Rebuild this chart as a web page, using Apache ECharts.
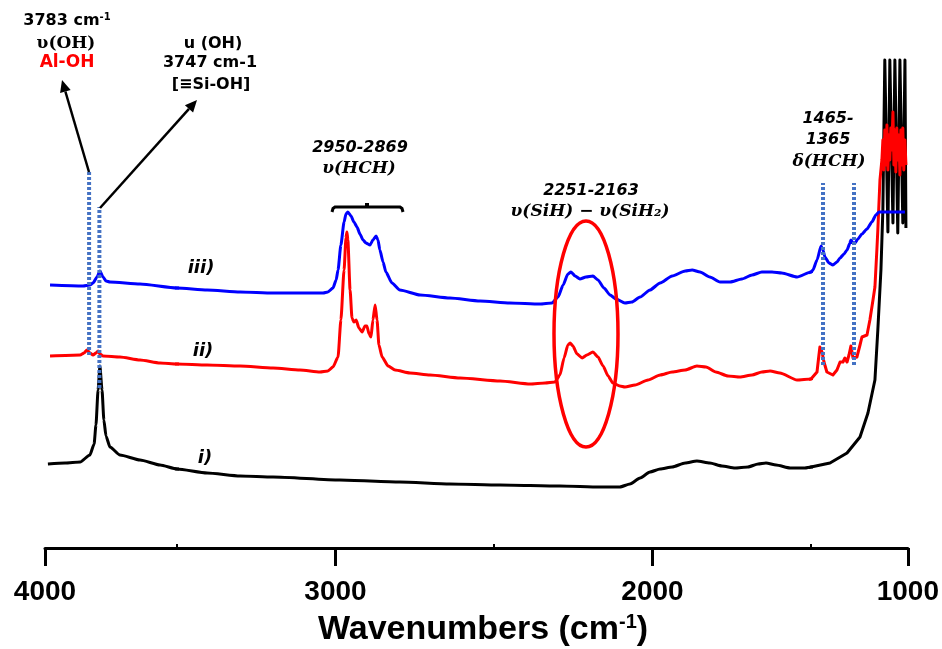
<!DOCTYPE html>
<html>
<head>
<meta charset="utf-8">
<script src="https://cdn.jsdelivr.net/npm/echarts@6/dist/echarts.min.js"></script>
<style>
  html, body { margin: 0; padding: 0; background: #fff; }
  #chart { width: 942px; height: 649px; }
</style>
</head>
<body>
<div id="chart"></div>
<script>
// FTIR spectra: [wavenumber (cm-1), absorbance (a.u., stacked offset)]
const spectrumI = [
  [3989,0.42],[3924,0.425],[3867,0.43],[3830,0.465],[3814,0.52],[3807,0.615],[3799,0.79],[3792,0.91],
  [3784,0.79],[3777,0.64],[3769,0.56],[3754,0.505],[3716,0.465],[3640,0.44],[3564,0.415],[3500,0.395],
  [3405,0.375],[3301,0.36],[3197,0.355],[2986,0.34],[2797,0.33],[2639,0.32],[2481,0.315],[2292,0.31],
  [2166,0.305],[2103,0.305],[2071,0.32],[2039,0.35],[2008,0.38],[1976,0.395],[1938,0.405],[1897,0.425],
  [1860,0.435],[1819,0.425],[1781,0.41],[1740,0.40],[1699,0.405],[1667,0.42],[1642,0.425],[1610,0.415],
  [1566,0.40],[1519,0.40],[1500,0.405],[1402,0.425],[1314,0.475],[1247,0.555],[1206,0.675],[1170,0.84],
  [1155,1.09],[1139,1.39],[1129,1.69],[1119,2.44],[1103,1.58],[1093,2.44],[1077,1.625],[1067,2.44],
  [1052,1.575],[1041,2.44],[1026,1.625],[1015,2.44],[1010,1.60]
];
const spectrumII = [
  [3981,0.96],[3867,0.965],[3852,0.975],[3841,0.99],[3830,0.975],[3818,0.965],[3807,0.975],[3799,0.985],
  [3792,0.97],[3780,0.96],[3716,0.955],[3640,0.94],[3564,0.925],[3500,0.92],
  [3405,0.915],[3301,0.91],[3197,0.90],[3112,0.89],[3049,0.88],[3024,0.885],[3008,0.905],[2992,0.955],
  [2983,1.14],[2973,1.39],[2967,1.55],[2964,1.58],[2961,1.54],[2954,1.29],[2948,1.15],[2942,1.13],
  [2935,1.14],[2926,1.10],[2916,1.08],[2907,1.11],[2901,1.11],[2894,1.07],[2888,1.055],[2882,1.14],
  [2875,1.215],[2869,1.14],[2863,1.015],[2853,0.955],[2834,0.91],[2812,0.89],[2765,0.875],[2702,0.865],
  [2607,0.85],[2481,0.835],[2386,0.82],[2339,0.825],[2308,0.83],[2292,0.865],[2279,0.95],[2267,1.015],
  [2260,1.025],[2251,1.01],[2238,0.97],[2222,0.95],[2207,0.965],[2188,0.98],[2172,0.955],[2156,0.91],
  [2140,0.86],[2125,0.825],[2103,0.81],[2087,0.805],[2055,0.815],[2014,0.84],[1976,0.865],[1938,0.88],
  [1897,0.89],[1860,0.91],[1831,0.905],[1800,0.88],[1762,0.86],[1724,0.855],[1686,0.865],[1655,0.88],
  [1629,0.885],[1598,0.875],[1544,0.84],
  [1500,0.845],[1490,0.85],[1469,0.88],[1459,0.965],[1454,1.005],[1443,0.98],[1433,0.93],[1418,0.88],
  [1387,0.865],[1366,0.89],[1350,0.93],[1335,0.93],[1325,0.95],[1314,0.93],[1304,0.965],[1294,1.01],
  [1283,0.95],[1273,0.94],[1263,0.955],[1247,1.015],[1237,1.055],[1211,1.065],[1196,1.14],[1180,1.24],
  [1170,1.305],[1160,1.49],[1155,1.59],[1144,1.84],[1134,1.94],[1129,2.04],[1124,1.89],[1119,2.09],
  [1113,1.915],[1108,2.115],[1103,1.89],[1098,2.065],[1093,1.94],[1088,2.10],[1083,1.99],[1077,2.18],
  [1072,1.915],[1067,2.09],[1062,1.88],[1057,2.10],[1052,1.94],[1046,2.065],[1041,1.865],[1036,2.09],
  [1031,1.915],[1026,2.10],[1021,1.89],[1015,2.04],[1010,1.915]
];
const spectrumIII = [
  [3981,1.315],[3856,1.31],[3830,1.315],[3818,1.325],[3803,1.355],[3792,1.385],[3780,1.355],[3769,1.335],
  [3754,1.33],[3640,1.32],[3500,1.30],
  [3405,1.29],[3301,1.28],[3197,1.275],[3112,1.275],[3039,1.275],[3024,1.28],[3008,1.30],[2998,1.34],
  [2992,1.39],[2983,1.515],[2973,1.63],[2967,1.67],[2961,1.68],[2951,1.66],[2942,1.63],[2932,1.605],
  [2923,1.57],[2913,1.54],[2904,1.525],[2891,1.515],[2882,1.54],[2872,1.56],[2866,1.54],[2860,1.49],
  [2850,1.43],[2841,1.38],[2822,1.325],[2797,1.29],[2733,1.265],[2639,1.25],[2544,1.235],[2450,1.225],
  [2355,1.22],[2317,1.225],[2298,1.255],[2282,1.315],[2267,1.37],[2257,1.38],[2244,1.36],[2229,1.345],
  [2210,1.355],[2188,1.36],[2172,1.34],[2153,1.30],[2134,1.265],[2115,1.245],[2087,1.225],[2065,1.23],
  [2039,1.255],[2008,1.29],[1976,1.325],[1938,1.36],[1897,1.385],[1875,1.39],[1850,1.38],[1819,1.355],
  [1787,1.33],[1755,1.33],[1718,1.345],[1686,1.365],[1655,1.38],[1623,1.38],[1592,1.375],[1544,1.355],
  [1500,1.38],[1490,1.39],[1469,1.44],[1448,1.51],[1438,1.49],[1428,1.455],[1407,1.425],[1387,1.415],
  [1366,1.43],[1350,1.45],[1330,1.47],[1314,1.49],[1299,1.525],[1294,1.54],[1283,1.525],[1273,1.525],
  [1258,1.545],[1237,1.57],[1211,1.595],[1186,1.63],[1165,1.665],[1149,1.68],[1119,1.68],[1015,1.68]
];

// x-axis: three linked segments, major / minor ticks
const axisBreaks = [4000, 3500, 1500, 1000];
const majorTicks = [4000, 3000, 2000, 1000];
const minorTicks = [3500, 2500, 1500];

// band markers: wavenumber, lower and upper absorbance
const markerWn = [3833, 3794, 1438, 1278];
const markerLow = [0.965, 0.80, 0.915, 0.915];
const markerHigh = [1.88, 1.705, 1.825, 1.825];

const curves = [
  { name: 'i)', data: spectrumI, color: '#000000' },
  { name: 'ii)', data: spectrumII, color: '#ff0000' },
  { name: 'iii)', data: spectrumIII, color: '#0000ff' }
];

const segLayout = [
  { left: 45, width: 132 },
  { left: 177, width: 634 },
  { left: 811, width: 97 }
];
const yMax = 2.54;

function inRange(v, lo, hi) { return v >= lo && v <= hi; }
function segIndex(wn) { return wn > axisBreaks[1] ? 0 : (wn > axisBreaks[2] ? 1 : 2); }
// points of one spectrum that fall in a segment, plus one neighbour on each side
function segment(data, lo, hi) {
  const out = [];
  for (let i = 0; i < data.length; i++) {
    const here = inRange(data[i][0], lo, hi);
    const prev = i > 0 && inRange(data[i - 1][0], lo, hi);
    const next = i < data.length - 1 && inRange(data[i + 1][0], lo, hi);
    if (here || prev || next) out.push(data[i]);
  }
  return out;
}

const grid = [], xAxis = [], yAxis = [], series = [];
segLayout.forEach((g, i) => {
  const hi = axisBreaks[i], lo = axisBreaks[i + 1];
  grid.push({ left: g.left, width: g.width, top: 40, height: 508 });
  const majors = majorTicks.filter(v => inRange(v, lo, hi));
  xAxis.push({
    type: 'value', gridIndex: i, min: lo, max: hi, inverse: true,
    axisLine: { show: true, onZero: false, lineStyle: { color: '#000', width: 3 } },
    axisTick: { show: majors.length > 0, customValues: majors, length: 18, lineStyle: { color: '#000', width: 3 } },
    axisLabel: {
      show: majors.length > 0, customValues: majors, margin: 30,
      formatter: v => String(v),
      color: '#000', fontSize: 28, fontWeight: 'bold', fontFamily: 'Liberation Sans'
    },
    splitLine: { show: false }
  });
  yAxis.push({ type: 'value', gridIndex: i, min: 0, max: yMax, show: false });
  curves.forEach((c, k) => {
    series.push({
      type: 'line', name: c.name, xAxisIndex: i, yAxisIndex: i,
      data: segment(c.data, lo, hi), symbol: 'none', clip: true,
      smooth: (i === 2 && k < 2) ? false : 0.2, smoothMonotone: 'x',
      lineStyle: { color: c.color, width: 3, join: 'round' },
      z: 2 + k, silent: true
    });
  });
});
// minor ticks on the middle segment
xAxis.push({
  type: 'value', gridIndex: 1, min: axisBreaks[2], max: axisBreaks[1], inverse: true,
  axisLine: { show: false },
  axisTick: { show: true, customValues: minorTicks, length: 4, lineStyle: { color: '#000', width: 2 } },
  axisLabel: { show: false },
  splitLine: { show: false }
});

// dotted band markers
markerWn.forEach((wn, j) => {
  const gi = segIndex(wn);
  series.push({
    type: 'line', xAxisIndex: gi, yAxisIndex: gi, z: 10, silent: true,
    data: [[wn, markerLow[j]], [wn, markerHigh[j]]], symbol: 'none',
    lineStyle: { color: '#4472C4', width: 4, type: [3, 2], cap: 'butt' }
  });
});

// annotation helpers
function txt(text, x, y, opt) {
  return {
    type: 'text', z: 20, silent: true,
    style: Object.assign({
      text, x, y, align: 'center', verticalAlign: 'middle', fill: '#000',
      fontSize: 16, fontWeight: 'bold', fontFamily: 'DejaVu Sans'
    }, opt || {})
  };
}
function arrow(x1, y1, x2, y2) {
  const dx = x2 - x1, dy = y2 - y1, L = Math.hypot(dx, dy);
  const ux = dx / L, uy = dy / L, hl = 12, hw = 5.5;
  const bx = x2 - ux * hl, by = y2 - uy * hl;
  return [
    { type: 'line', z: 20, silent: true, shape: { x1, y1, x2: bx, y2: by }, style: { stroke: '#000', lineWidth: 2.5 } },
    { type: 'polygon', z: 20, silent: true,
      shape: { points: [[x2, y2], [bx - uy * hw, by + ux * hw], [bx + uy * hw, by - ux * hw]] },
      style: { fill: '#000' } }
  ];
}
const serifB = { fontFamily: 'DejaVu Serif', fontSize: 17, fontWeight: 'bold' };
const serifBI = { fontFamily: 'DejaVu Serif', fontSize: 17, fontWeight: 'bold', fontStyle: 'italic' };
const sansBI = { fontStyle: 'italic' };

const graphic = [].concat(
  [
    txt('{a|3783 cm}{s|-1}', 67, 21, { rich: {
      a: { fontSize: 16, fontWeight: 'bold', fontFamily: 'DejaVu Sans', lineHeight: 18 },
      s: { fontSize: 10, fontWeight: 'bold', fontFamily: 'DejaVu Sans', verticalAlign: 'top', lineHeight: 10 } } }),
    txt('υ(OH)', 66, 44, serifB),
    txt('Al-OH', 67, 63, { fill: '#ff0000', fontSize: 17 }),
    txt('u (OH)', 213, 44),
    txt('3747 cm-1', 210, 63),
    txt('[≡Si-OH]', 211, 85),
    txt('2950-2869', 360, 148, sansBI),
    txt('υ(HCH)', 359, 169, serifBI),
    txt('2251-2163', 591, 191, sansBI),
    txt('υ(SiH) − υ(SiH₂)', 590, 212, serifBI),
    txt('1465-', 828, 119, sansBI),
    txt('1365', 828, 140, sansBI),
    txt('δ(HCH)', 829, 162, serifBI),
    txt('iii)', 201, 268, { fontSize: 18, fontStyle: 'italic' }),
    txt('ii)', 203, 351, { fontSize: 18, fontStyle: 'italic' }),
    txt('i)', 205, 458, { fontSize: 18, fontStyle: 'italic' }),
    txt('{a|Wavenumbers (cm}{s|-1}{a|)}', 483, 630, { rich: {
      a: { fontSize: 34, fontWeight: 'bold', fontFamily: 'Liberation Sans', lineHeight: 36 },
      s: { fontSize: 20, fontWeight: 'bold', fontFamily: 'Liberation Sans', verticalAlign: 'top', lineHeight: 20 } } }),
    // bracket over the C-H stretching bands
    { type: 'polyline', z: 20, silent: true,
      shape: { points: [[332, 212], [333, 208.5], [335, 207], [400, 207], [402, 208.5], [403, 212]] },
      style: { stroke: '#000', lineWidth: 3, fill: null } },
    { type: 'rect', z: 20, silent: true, shape: { x: 365, y: 203, width: 4, height: 4 }, style: { fill: '#000' } },
    // ellipse around the Si-H bands
    { type: 'ellipse', z: 20, silent: true, shape: { cx: 586, cy: 334, rx: 32, ry: 113 },
      style: { stroke: '#ff0000', lineWidth: 3.5, fill: null } }
  ],
  arrow(89, 172, 62, 80),
  arrow(100, 208, 197, 100)
);

const chart = echarts.init(document.getElementById('chart'), null, { renderer: 'canvas' });
chart.setOption({
  animation: false,
  backgroundColor: '#ffffff',
  grid, xAxis, yAxis, series, graphic
});
</script>
</body>
</html>
